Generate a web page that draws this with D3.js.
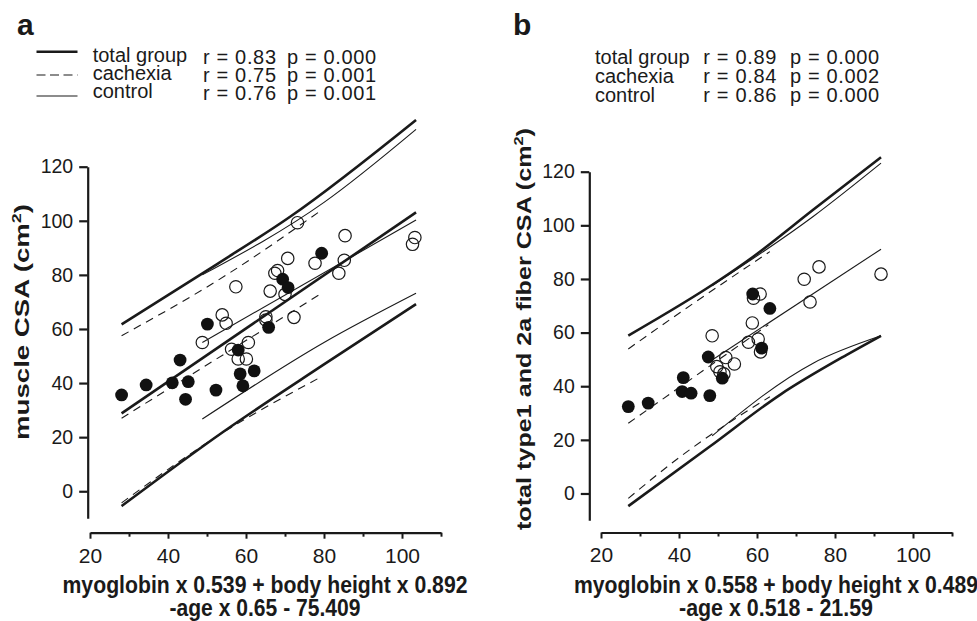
<!DOCTYPE html>
<html>
<head>
<meta charset="utf-8">
<script src="https://cdn.jsdelivr.net/npm/d3@7"></script>
<style>
body { margin: 0; background: #fff; }
text { font-family: "Liberation Sans", Arial, Helvetica, sans-serif; fill: #1a1a1a; }
</style>
</head>
<body>
<svg id="chart" width="977" height="621"></svg>
<script>
// ticks
const xTicks = [20, 30, 40, 50, 60, 70, 80, 90, 100, 110];
const xLabels = [20, 40, 60, 80, 100];
const yTicks = [0, 20, 40, 60, 80, 100, 120];

// legend
const groupNames = ["total group", "cachexia", "control"];
const aR = ["0.83", "0.75", "0.76"], aP = ["0.000", "0.001", "0.001"];
const bR = ["0.89", "0.84", "0.86"], bP = ["0.000", "0.002", "0.000"];

// panel a points (filled = cachexia, open = control)
const aCachexiaPts = [[79.4,88.0],[69.4,78.4],[70.8,75.3],[50.1,61.8],[65.8,60.6],[58.0,52.2],[43.1,48.5],
  [28.1,35.6],[34.4,39.3],[41.1,40.1],[45.2,40.5],[44.5,34.0],[52.3,37.4],[58.5,43.4],[62.1,44.5],[59.2,39.0]];
const aControlPts = [[73.2,99.3],[85.4,94.5],[103.3,93.8],[102.7,91.3],[70.7,86.1],[77.7,84.3],[85.2,85.4],
  [83.8,80.6],[68.1,81.6],[67.4,80.6],[57.4,75.6],[66.2,74.0],[70.0,72.8],[53.9,65.2],[54.9,62.1],[65.1,64.5],
  [72.3,64.3],[65.1,63.3],[48.8,55.0],[60.6,55.0],[56.3,52.5],[58.0,48.9],[60.1,48.9]];

// panel a fitted lines and bands
const aTotalFit = [[28.1,28.8],[103.6,103.1]];
const aTotalUpper = [[28.1,61.7],[52.5,83.9],[71.3,101.5],[103.6,137.3]];
const aTotalLower = [[28.1,-5.5],[54.2,22.0],[79.8,46.7],[103.6,69.2]];
const aCachexiaFit = [[28.1,27.0],[79.4,73.2]];
const aCachexiaUpper = [[28.1,57.5],[55,80],[79.4,104]];
const aCachexiaLower = [[28.1,-4.3],[52,19.8],[79.4,42.4]];
const aControlFit = [[48.8,55.0],[103.6,100.3]];
const aControlUpper = [[48.8,80],[80,106.8],[103.6,133.8]];
const aControlLower = [[48.8,26.7],[80,55],[103.6,73.2]];

// panel b points
const bCachexiaPts = [[58.9,74.4],[63.3,69.0],[61.2,54.2],[47.5,50.9],[41.1,43.2],[51.1,43.0],[40.8,38.0],
  [43.1,37.4],[47.9,36.5],[27.0,32.4],[32.1,33.7]];
const bControlPts = [[48.5,58.8],[58.8,63.6],[60.8,74.4],[59.1,72.8],[72.1,79.9],[75.9,84.5],[91.8,81.8],
  [73.6,71.4],[60.3,57.6],[57.8,56.4],[60.9,52.8],[52.0,50.7],[54.2,48.3],[49.7,47.3],[50.5,45.4],[51.5,44.6]];

// panel b lines
const bTotalUpper = [[27,58.9],[50.5,79.7],[59.1,88.4],[74.4,105.8],[91.8,125.4]];
const bTotalLower = [[27,-4.7],[47.9,17.5],[65.9,36.8],[83,51.7],[91.8,58.8]];
const bCachexiaFit = [[27,26.2],[62.9,62.9]];
const bCachexiaUpper = [[27,53.9],[40.3,67.5],[63.3,90.2]];
const bCachexiaLower = [[27,-1.8],[40.3,13.7],[63.3,36.1]];
const bControlFit = [[48.5,49.8],[91.8,91.1]];
const bControlUpper = [[48.5,77.5],[74.4,103.3],[91.8,123.2]];
const bControlLower = [[48.5,21.5],[74.4,48.6],[91.8,58.8]];

const svg = d3.select("#chart");
const ink = "#1a1a1a";
const lineStyle = {
  thick: { w: 2.6, dash: null },
  thin: { w: 1.1, dash: null },
  dashed: { w: 1.1, dash: "8,6" }
};

function drawPanel(cfg) {
  const x = d3.scaleLinear().domain([20, 110]).range(cfg.xRange);
  const y = d3.scaleLinear().domain([-10, 120]).range(cfg.yRange);
  const g = svg.append("g");

  // y axis
  const ya = g.append("g")
    .attr("transform", `translate(${cfg.yAxisX},0)`)
    .call(d3.axisLeft(y).tickValues(yTicks).tickSize(8.5).tickSizeOuter(0).tickPadding(6));
  ya.attr("font-size", null).attr("font-family", null);
  ya.select(".domain").attr("stroke", ink).attr("stroke-width", 2.2);
  ya.selectAll(".tick line").attr("stroke", ink).attr("stroke-width", 2.2);
  ya.selectAll(".tick text").attr("font-size", "19.5px").attr("fill", ink);

  // x axis
  const xa = g.append("g")
    .attr("transform", `translate(0,${cfg.xAxisY})`)
    .call(d3.axisBottom(x).tickValues(xTicks).tickSize(6).tickSizeOuter(0).tickPadding(9)
      .tickFormat(d => xLabels.includes(d) ? d : ""));
  xa.attr("font-size", null).attr("font-family", null);
  xa.select(".domain").attr("stroke", ink).attr("stroke-width", 2.2);
  xa.selectAll(".tick line").attr("stroke", ink).attr("stroke-width", 2)
    .attr("y2", d => xLabels.includes(d) ? 6 : 4);
  xa.selectAll(".tick text").attr("font-size", "21px").attr("fill", ink);

  // lines
  const line = d3.line().x(d => x(d[0])).y(d => y(d[1])).curve(d3.curveMonotoneX);
  cfg.lines.forEach(l => {
    const s = lineStyle[l.style];
    g.append("path")
      .attr("d", line(l.data))
      .attr("fill", "none")
      .attr("stroke", ink)
      .attr("stroke-width", s.w)
      .attr("stroke-dasharray", s.dash);
  });

  // points
  g.selectAll(".open").data(cfg.open).enter().append("circle")
    .attr("cx", d => x(d[0])).attr("cy", d => y(d[1])).attr("r", 6.2)
    .attr("fill", "none").attr("stroke", ink).attr("stroke-width", 1.2);
  g.selectAll(".filled").data(cfg.filled).enter().append("circle")
    .attr("cx", d => x(d[0])).attr("cy", d => y(d[1])).attr("r", 6.4)
    .attr("fill", "#111");

  // y title
  const yt = g.append("text")
    .attr("transform", `translate(${cfg.yTitle.x},${cfg.yTitle.y}) rotate(-90)`)
    .attr("text-anchor", "middle")
    .attr("font-size", "20px").attr("font-weight", "bold")
    .attr("textLength", cfg.yTitle.len).attr("lengthAdjust", "spacingAndGlyphs");
  yt.append("tspan").text(cfg.yTitle.text + " (cm");
  yt.append("tspan").attr("font-size", "13px").attr("dy", -8).text("2");
  yt.append("tspan").attr("dy", 8).text(")");

  // x title
  cfg.xTitle.lines.forEach((t, i) => {
    g.append("text")
      .attr("transform", `translate(${cfg.xTitle.cx},${cfg.xTitle.base[i]}) scale(1,1.12)`)
      .attr("text-anchor", "middle")
      .attr("font-size", "21px").attr("font-weight", "bold")
      .attr("textLength", cfg.xTitle.len[i]).attr("lengthAdjust", "spacingAndGlyphs")
      .text(t);
  });

  // panel letter
  g.append("text").attr("x", cfg.letter.x).attr("y", 35)
    .attr("font-size", "30px").attr("font-weight", "bold").text(cfg.letter.t);

  // legend text
  groupNames.forEach((n, i) => {
    const base = cfg.legend.base[i];
    g.append("text").attr("x", cfg.legend.labelX).attr("y", base - cfg.legend.labelShift)
      .attr("font-size", "20px").text(n);
    g.append("text").attr("x", cfg.legend.rX).attr("y", base)
      .attr("font-size", "20px").attr("textLength", 73).text(`r = ${cfg.legend.r[i]}`);
    g.append("text").attr("x", cfg.legend.pX).attr("y", base)
      .attr("font-size", "20px").attr("textLength", 89).text(`p = ${cfg.legend.p[i]}`);
  });
  if (cfg.legend.samples) {
    cfg.legend.samples.forEach(s => {
      const st = lineStyle[s.style];
      g.append("line").attr("x1", 36.5).attr("x2", 77.5).attr("y1", s.y).attr("y2", s.y)
        .attr("stroke", ink).attr("stroke-width", st.w).attr("stroke-dasharray", st.dash ? "9,4.5" : null);
    });
  }
}

drawPanel({
  xRange: [90, 441], yRange: [518.3, 166.7], yAxisX: 87.7, xAxisY: 532.7,
  open: aControlPts, filled: aCachexiaPts,
  lines: [
    { data: aTotalUpper, style: "thick" }, { data: aTotalFit, style: "thick" }, { data: aTotalLower, style: "thick" },
    { data: aCachexiaUpper, style: "dashed" }, { data: aCachexiaFit, style: "dashed" }, { data: aCachexiaLower, style: "dashed" },
    { data: aControlUpper, style: "thin" }, { data: aControlFit, style: "thin" }, { data: aControlLower, style: "thin" }
  ],
  yTitle: { x: 29, y: 322, len: 236, text: "muscle CSA" },
  xTitle: { cx: 265, base: [593, 616], len: [405, 191],
    lines: ["myoglobin x 0.539 + body height x 0.892", "-age x 0.65 - 75.409"] },
  letter: { x: 17, t: "a" },
  legend: { labelX: 92.7, rX: 203, pX: 287, base: [64, 82, 100], labelShift: 2, r: aR, p: aP,
    samples: [{ y: 51.7, style: "thick" }, { y: 75, style: "dashed" }, { y: 96, style: "thin" }] }
});

drawPanel({
  xRange: [601, 952], yRange: [520.3, 171.7], yAxisX: 589.3, xAxisY: 532.5,
  open: bControlPts, filled: bCachexiaPts,
  lines: [
    { data: bTotalUpper, style: "thick" }, { data: bTotalLower, style: "thick" },
    { data: bCachexiaUpper, style: "dashed" }, { data: bCachexiaFit, style: "dashed" }, { data: bCachexiaLower, style: "dashed" },
    { data: bControlUpper, style: "thin" }, { data: bControlFit, style: "thin" }, { data: bControlLower, style: "thin" }
  ],
  yTitle: { x: 530.5, y: 329, len: 402, text: "total type1 and 2a fiber CSA" },
  xTitle: { cx: 776, base: [593, 616], len: [404, 194],
    lines: ["myoglobin x 0.558 + body height x 0.489", "-age x 0.518 - 21.59"] },
  letter: { x: 513, t: "b" },
  legend: { labelX: 595, rX: 703.3, pX: 790, base: [64, 83, 102], labelShift: 0, r: bR, p: bP }
});
</script>
</body>
</html>
